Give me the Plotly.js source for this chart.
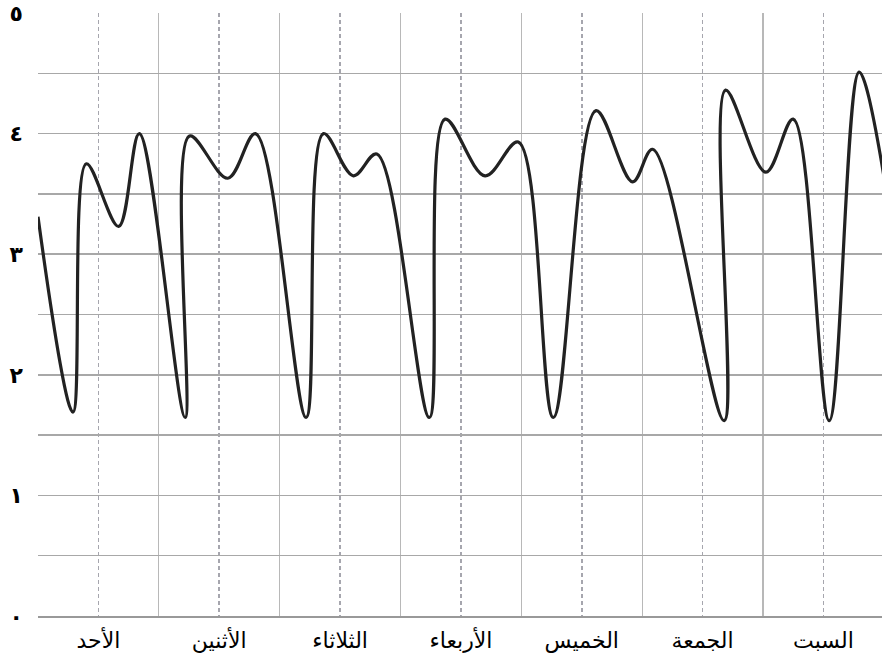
<!DOCTYPE html>
<html>
<head>
<meta charset="utf-8">
<script src="https://cdn.plot.ly/plotly-3.0.1.min.js"></script>
<style>html,body{margin:0;padding:0;background:#fff;overflow:hidden}</style>
</head>
<body>
<div id="chart" style="width:882px;height:664px"></div>
<script>
// Day categories (x axis labels)
const days = ['الأحد','الأثنين','الثلاثاء','الأربعاء','الخميس','الجمعة','السبت'];
// Y tick labels (Arabic-Indic digits)
const yTickVals = [0,0.5,1,1.5,2,2.5,3,3.5,4,4.5,5];
const yTickText = ['٠','','١','','٢','','٣','','٤','','٥'];
// Series: position along the week (days) and value
const xVals = [0.00,0.289,0.40,0.667,0.838,1.218,1.254,1.571,1.80,2.219,2.362,2.61,2.804,3.239,3.369,3.70,3.975,4.265,4.618,4.921,5.087,5.679,5.69,6.024,6.25,6.548,6.796,7.00];
const yVals = [3.31,1.69,3.75,3.23,4.00,1.646,3.98,3.63,4.00,1.646,4.00,3.65,3.83,1.646,4.12,3.65,3.93,1.646,4.19,3.60,3.87,1.62,4.36,3.68,4.12,1.62,4.51,3.65];

const centers = days.map((d,i)=>i+0.5);
const bounds = [0,1,2,3,4,5,6,7];

const trace = {
  x: xVals, y: yVals, type: 'scatter', mode: 'lines',
  line: {shape: 'spline', smoothing: 1, color: '#222222', width: 3.2},
  hoverinfo: 'skip'
};

const layout = {
  width: 882, height: 664,
  margin: {l: 38, r: 0, t: 13, b: 48},
  paper_bgcolor: '#fff', plot_bgcolor: '#fff',
  showlegend: false,
  xaxis: {
    range: [0, 6.985],
    tickmode: 'array', tickvals: centers, ticktext: days,
    showgrid: true, gridcolor: '#a6a6ae', griddash: '4px,3px', gridwidth: 1.6,
    minor: {tickmode: 'array', tickvals: bounds, showgrid: true, gridcolor: '#b8b8b8', griddash: 'solid', gridwidth: 1.2, ticks: ''},
    ticks: '', zeroline: false,
    showline: true, linecolor: '#999', linewidth: 2,
    tickfont: {family: 'Liberation Sans, DejaVu Sans, sans-serif', size: 22, color: '#000'},
    ticklabelstandoff: 4
  },
  yaxis: {
    range: [0, 5],
    tickmode: 'array', tickvals: yTickVals, ticktext: yTickText,
    showgrid: true, gridcolor: '#a8a8a8', gridwidth: 1.5,
    zeroline: false, ticks: '', showline: false,
    tickfont: {family: 'DejaVu Sans, sans-serif', size: 22, color: '#000', weight: 'bold'},
    ticklabelstandoff: 14
  }
};

Plotly.newPlot('chart', [trace], layout, {displayModeBar: false, staticPlot: true});
</script>
</body>
</html>
